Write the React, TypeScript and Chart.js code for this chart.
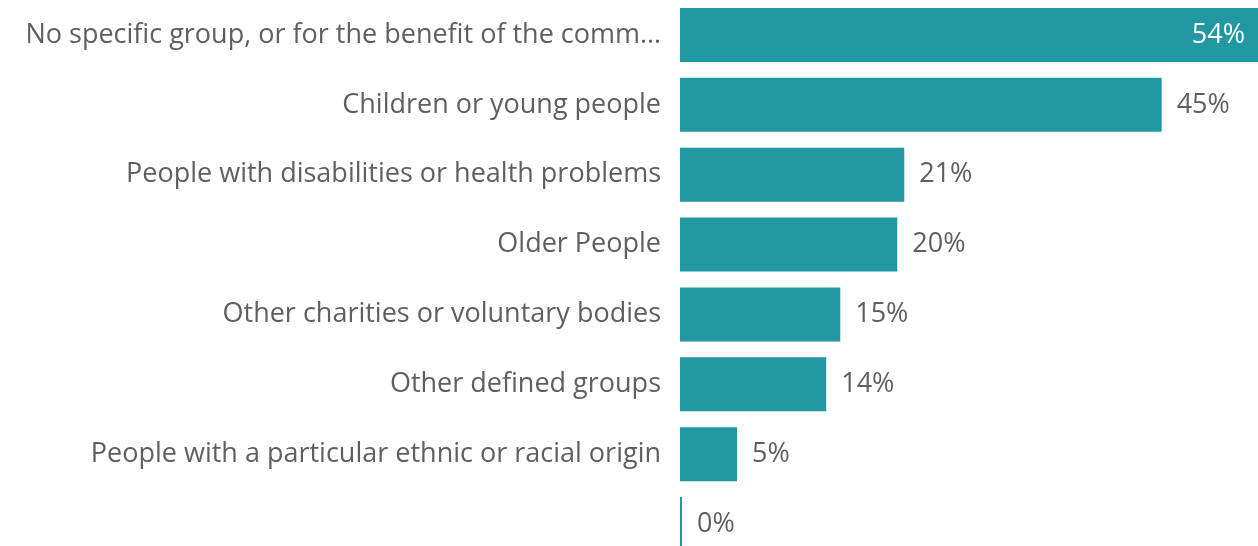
import React, { useEffect, useRef } from "react";
import { Chart, registerables } from "chart.js";

Chart.register(...registerables);

const categories = [
  "No specific group, or for the benefit of the comm…",
  "Children or young people",
  "People with disabilities or health problems",
  "Older People",
  "Other charities or voluntary bodies",
  "Other defined groups",
  "People with a particular ethnic or racial origin",
  "",
];
const values = [54, 45, 20.95, 20.3, 14.97, 13.66, 5.33, 0];

const BAR_COLOR = "#2197A1";
const TEXT_COLOR = "#5f5f5f";
const FONT_FAMILY = "'Open Sans', 'Noto Sans', sans-serif";
const FONT_SIZE = 27;

const valueLabelPlugin = {
  id: "valueLabels",
  afterDatasetsDraw(chart: any) {
    const { ctx } = chart;
    const meta = chart.getDatasetMeta(0);
    ctx.save();
    ctx.font = `${FONT_SIZE}px ${FONT_FAMILY}`;
    ctx.textBaseline = "middle";
    meta.data.forEach((bar: any, i: number) => {
      const v = values[i];
      const text = `${Math.round(v)}%`;
      const w = ctx.measureText(text).width;
      const right = chart.chartArea.right;
      if (bar.x + 15 + w > right) {
        ctx.fillStyle = "#ffffff";
        ctx.textAlign = "right";
        ctx.fillText(text, bar.x - 13, bar.y);
      } else {
        ctx.fillStyle = TEXT_COLOR;
        ctx.textAlign = "left";
        ctx.fillText(text, Math.max(bar.x, chart.chartArea.left + 2) + 15, bar.y);
      }
    });
    ctx.restore();
  },
};

export default function App() {
  const ref = useRef<HTMLCanvasElement | null>(null);
  useEffect(() => {
    document.body.style.margin = "0";
    const chart = new Chart(ref.current as HTMLCanvasElement, {
      type: "bar",
      data: {
        labels: categories,
        datasets: [
          {
            data: values,
            backgroundColor: BAR_COLOR,
            borderWidth: 0,
            categoryPercentage: 1,
            barPercentage: 54 / 70,
            minBarLength: 2,
          },
        ],
      },
      options: {
        indexAxis: "y",
        animation: false,
        responsive: false,
        maintainAspectRatio: false,
        layout: { padding: { top: -1, right: 0, bottom: 0, left: 0 } },
        plugins: {
          legend: { display: false },
          tooltip: { enabled: false },
        },
        scales: {
          x: {
            display: false,
            min: 0,
            max: 54,
          },
          y: {
            grid: { display: false, drawTicks: false },
            border: { display: false },
            ticks: {
              color: TEXT_COLOR,
              font: { family: FONT_FAMILY, size: FONT_SIZE },
              padding: 19,
              autoSkip: false,
            },
            afterFit(scale: any) {
              scale.width = 680;
              scale.paddingTop = 0;
              scale.paddingBottom = 0;
            },
          },
        },
      },
      plugins: [valueLabelPlugin],
    });
    return () => chart.destroy();
  }, []);
  return (
    <div style={{ width: 1258, height: 546, overflow: "hidden" }}>
      <canvas ref={ref} width={1258} height={559} style={{ display: "block" }} />
    </div>
  );
}
